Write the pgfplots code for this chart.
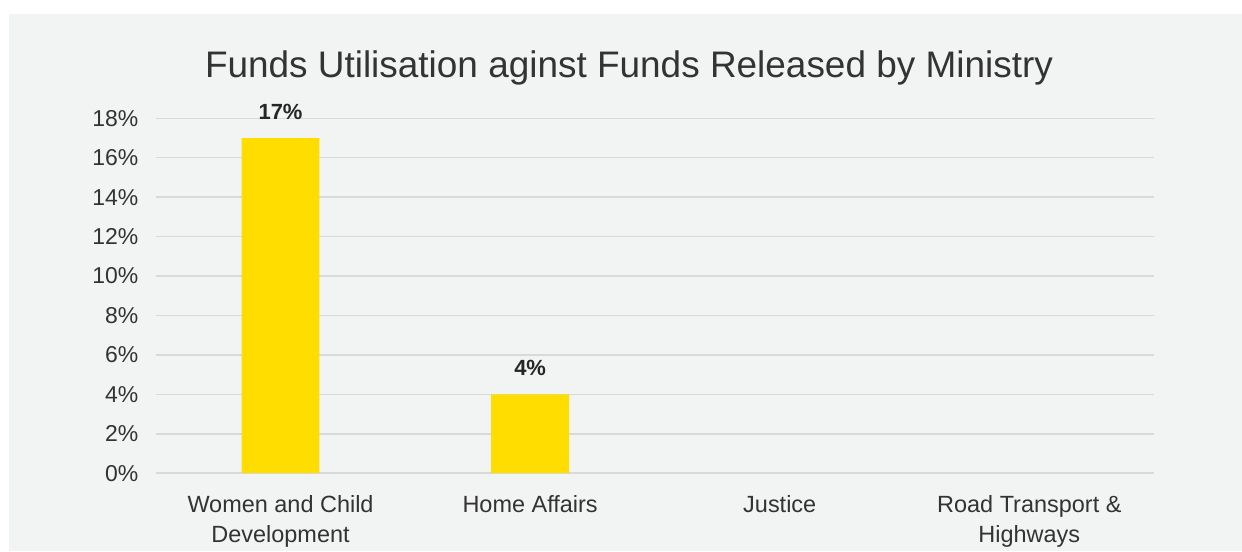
\documentclass[border=0pt]{standalone}
\usepackage{pgfplots}
\pgfplotsset{compat=1.18}
\usepackage{fontspec}
\setmainfont{Liberation Sans}
\definecolor{bgc}{HTML}{F2F3F3}
\definecolor{gridc}{HTML}{D9D9D9}
\definecolor{barc}{HTML}{FFDD00}
\definecolor{txt}{HTML}{333333}
\begin{document}
\begin{tikzpicture}[x=1bp,y=1bp]
\fill[white] (0,0) rectangle (1242,550);
\fill[bgc] (9,-2) rectangle (1244,536);
\useasboundingbox (0,0) rectangle (1242,550);
\node[text=txt, font=\fontsize{37bp}{44bp}\selectfont] at (630,482) {Funds Utilisation aginst Funds Released by Ministry};
\begin{axis}[
  at={(156bp,76bp)}, anchor=south west,
  scale only axis, width=1000bp, height=355.5bp,
  xmin=-0.5, xmax=3.5, ymin=0, ymax=18,
  ytick={0,2,...,18},
  yticklabel={\pgfmathprintnumber{\tick}\%},
  xtick={0,1,2,3},
  xticklabels={{Women and Child\\Development},{Home Affairs},{Justice},{Road Transport \&\\Highways}},
  xticklabel style={align=center, font=\fontsize{23.5bp}{30bp}\selectfont, text=txt, yshift=-19bp},
  yticklabel style={font=\fontsize{23bp}{27bp}\selectfont, text=txt, xshift=-14bp},
  /pgf/number format/assume math mode=true,
  major tick length=0pt,
  axis line style={draw=none},
  ymajorgrids, grid style={draw=gridc, line width=1.5bp},
  ybar, bar width=78bp,
  nodes near coords={\pgfmathprintnumber{\pgfplotspointmeta}\%},
  every node near coord/.append style={font=\bfseries\fontsize{22bp}{26bp}\selectfont, text=black!85, yshift=15bp},
  clip=false,
]
\addplot[fill=barc, draw=none] coordinates {(0,17) (1,4)};
\end{axis}
\end{tikzpicture}
\end{document}
